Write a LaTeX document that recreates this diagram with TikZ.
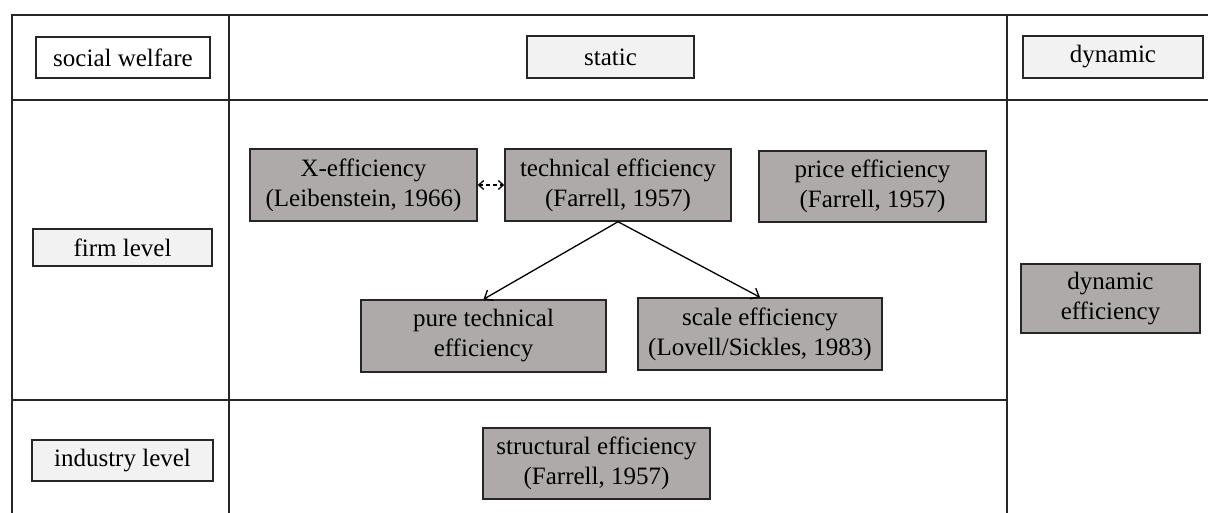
\documentclass[tikz,border=0pt]{standalone}
\usepackage{fontspec}
\setmainfont{Liberation Serif}
\usetikzlibrary{arrows.meta}
\definecolor{darkfill}{RGB}{174,170,170}
\definecolor{lightfill}{RGB}{242,242,242}
\begin{document}
\begin{tikzpicture}[x=1pt,y=-1pt,
  tableline/.style={line width=1.8pt,draw=black!85},
  basebox/.style={draw=black!85,line width=1.5pt,inner sep=0pt,align=center,
    font=\fontsize{25}{30}\selectfont},
  whitebox/.style={basebox,fill=white},
  lightbox/.style={basebox,fill=lightfill},
  darkbox/.style={basebox,fill=darkfill},
  conn/.style={line width=1.3pt,-{Straight Barb[length=7pt,width=12pt]}},
  dconn/.style={line width=1.3pt,dash pattern=on 4pt off 3pt,{Straight Barb[length=5pt,width=9pt]}-{Straight Barb[length=5pt,width=9pt]}}
]
\useasboundingbox (0,0) rectangle (1208,513);
% table
\draw[tableline] (12,513) -- (12,15) -- (1208,15);
\draw[tableline] (12,100) -- (1208,100);
\draw[tableline] (12,400) -- (1007,400);
\draw[tableline] (229,15) -- (229,513);
\draw[tableline] (1007,15) -- (1007,513);
% header and row labels
\node[whitebox,minimum width=174pt,minimum height=41pt] (sw) at (123,57.5) {social welfare};
\node[lightbox,minimum width=167pt,minimum height=42pt] (st) at (610.5,57) {static};
\node[lightbox,minimum width=180pt,minimum height=42pt] (dy) at (1113,57) {dynamic};
\node[lightbox,minimum width=179pt,minimum height=37pt] (fl) at (122.5,247.5) {firm level};
\node[lightbox,minimum width=181pt,minimum height=41pt] (il) at (122.5,460.5) {industry level};
% efficiency boxes
\node[darkbox,minimum width=227pt,minimum height=72pt] (xe) at (363.5,185) {X-efficiency\\(Leibenstein, 1966)};
\node[darkbox,minimum width=226pt,minimum height=72pt] (te) at (618,185) {technical efficiency\\(Farrell, 1957)};
\node[darkbox,minimum width=227pt,minimum height=71pt] (pe) at (872.5,186.5) {price efficiency\\(Farrell, 1957)};
\node[darkbox,minimum width=245pt,minimum height=72pt] (pt) at (483.5,336) {pure technical\\efficiency};
\node[darkbox,minimum width=244pt,minimum height=72pt] (se) at (760,334) {scale efficiency\\(Lovell/Sickles, 1983)};
\node[darkbox,minimum width=179pt,minimum height=69pt] (de) at (1110.5,298.5) {dynamic\\efficiency};
\node[darkbox,minimum width=227pt,minimum height=71pt] (sf) at (596.5,463.5) {structural efficiency\\(Farrell, 1957)};
% connectors
\draw[dconn] (xe.east) -- (te.west);
\draw[conn] (te.south) -- (pt.north);
\draw[conn] (te.south) -- (se.north);
\end{tikzpicture}
\end{document}
